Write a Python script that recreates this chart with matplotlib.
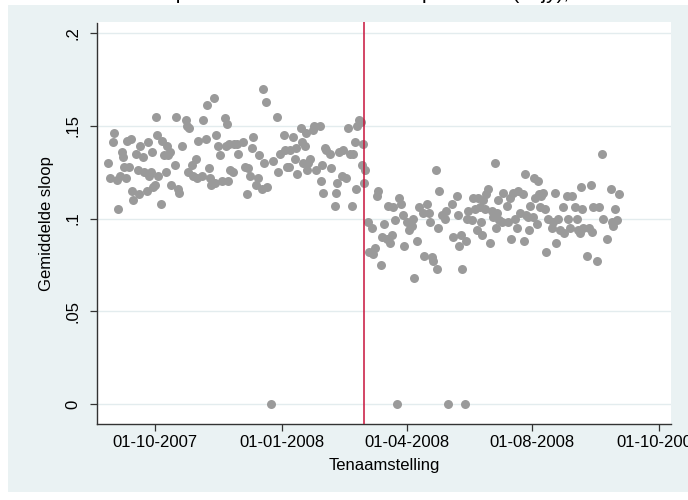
import matplotlib
matplotlib.use('Agg')
import matplotlib.pyplot as plt
from matplotlib.patches import Rectangle

plt.rcParams.update({
    'font.family': ['Liberation Sans', 'DejaVu Sans'],
    'font.size': 12,
})

# days since 01-10-2007 and average value
dag_voor = [-34.1, -32.7, -30.5, -29.8, -27.6, -26.9, -25.4, -24.0, -23.2, -22.5,
            -21.1, -20.3, -18.9, -17.4, -16.7, -16.0, -13.8, -12.3, -11.6, -10.9,
            -8.7, -8.0, -5.8, -5.1, -4.4, -2.9, -2.2, -1.5, 0.0, 0.7,
            1.5, 2.2, 4.4, 5.1, 6.5, 8.0, 8.7, 9.4, 10.9, 11.6,
            14.5, 15.2, 16.7, 17.4, 19.6, 22.5, 23.2, 24.0, 24.7, 26.9,
            27.6, 29.8, 30.5, 31.2, 34.1, 34.8, 37.0, 37.8, 39.2, 39.9,
            40.7, 42.8, 43.6, 44.3, 45.7, 47.2, 48.6, 50.8, 51.5, 52.3,
            53.0, 53.7, 54.4, 56.6, 57.3, 59.5, 60.3, 63.9, 65.3, 67.5,
            66.8, 69.0, 70.4, 71.1, 73.3, 74.8, 75.5, 77.7, 78.4, 79.1,
            80.6, 81.3, 85.7, 88.6, 89.3, 90.8, 93.7, 94.4, 95.8, 97.3,
            98.0, 100.2, 101.6, 102.3, 103.1, 106.0, 106.7, 107.4, 108.9, 109.6,
            110.4, 111.1, 112.5, 114.7, 115.4, 116.9, 119.8, 120.5, 121.3, 122.0,
            123.4, 124.1, 127.0, 127.8, 130.7, 131.4, 132.1, 133.6, 135.8, 136.5,
            138.7, 140.1, 141.6, 143.0, 143.7, 145.2, 145.9, 146.7, 148.1, 149.6,
            150.3, 151.0, 151.5, 152.3]
sloop_voor = [.130, .122, .141, .146, .121, .105, .123, .136, .133, .128,
              .122, .142, .128, .143, .115, .110, .135, .126, .113, .139,
              .133, .125, .115, .141, .123, .125, .136, .117, .118, .155,
              .145, .123, .108, .142, .134, .125, .139, .134, .136, .118,
              .129, .155, .116, .114, .139, .153, .150, .125, .149, .129,
              .123, .132, .122, .142, .123, .153, .143, .161, .127, .122,
              .118, .165, .119, .145, .139, .134, .120, .154, .139, .151,
              .120, .140, .126, .125, .140, .140, .135, .141, .128, .127,
              .113, .123, .138, .144, .118, .122, .134, .116, .170, .130,
              .163, .117, .131, .155, .125, .135, .145, .137, .128, .128,
              .137, .144, .132, .138, .124, .149, .141, .130, .139, .146,
              .126, .130, .132, .148, .150, .126, .150, .120, .129, .114,
              .138, .137, .135, .127, .107, .114, .119, .136, .123, .137,
              .122, .149, .135, .107, .135, .141, .116, .150, .153, .152,
              .129, .140, .119, .126]

dag_na = [154.6, 155.4, 157.5, 158.3, 159.7, 161.2, 161.9, 164.1, 164.8, 166.3,
          168.4, 169.2, 170.6, 172.1, 172.8, 174.2, 177.1, 178.6, 180.0, 180.8,
          183.0, 184.4, 186.6, 187.3, 188.0, 190.2, 191.7, 194.6, 195.3, 197.5,
          198.9, 199.7, 201.1, 201.8, 204.0, 204.7, 205.5, 206.2, 208.4, 210.5,
          211.5, 215.6, 216.3, 219.3, 220.0, 220.7, 222.2, 222.9, 225.8, 226.5,
          227.2, 230.1, 230.9, 232.3, 233.8, 234.5, 236.0, 236.7, 237.4, 238.1,
          239.6, 240.3, 241.8, 243.2, 244.7, 245.4, 246.8, 247.6, 248.3, 249.0,
          249.7, 251.9, 252.6, 255.6, 256.3, 257.7, 258.4, 259.9, 261.4, 262.8,
          263.5, 265.0, 267.2, 267.9, 268.6, 269.3, 270.8, 271.5, 272.3, 274.4,
          275.2, 275.9, 277.3, 278.1, 278.8, 279.5, 280.3, 281.7, 283.1, 283.9,
          285.3, 288.2, 289.0, 290.4, 291.1, 292.6, 294.0, 296.2, 296.9, 299.1,
          300.0, 301.4, 302.7, 304.9, 306.4, 307.1, 308.5, 309.3, 310.0, 310.7,
          313.6, 315.0, 316.5, 317.3, 318.0, 320.9, 322.3, 324.5, 325.2, 328.1,
          331.1, 331.8, 332.5, 334.0, 335.4, 336.9]
sloop_na = [.098, .082, .095, .081, .084, .112, .115, .075, .090, .097,
            .089, .107, .087, .091, .106, .099, .111, .108, .102, .085,
            .098, .094, .096, .100, .068, .088, .106, .103, .080, .108,
            .103, .098, .079, .077, .126, .073, .095, .115, .102, .100,
            .104, .108, .090, .112, .102, .085, .091, .073, .088, .100,
            .104, .099, .111, .105, .094, .111, .106, .098, .091, .110,
            .105, .113, .116, .087, .104, .101, .130, .095, .103, .110,
            .099, .098, .114, .107, .098, .111, .089, .114, .100, .095,
            .115, .103, .113, .088, .124, .102, .101, .094, .107, .101,
            .122, .111, .097, .120, .113, .106, .112, .114, .105, .082,
            .100, .095, .098, .114, .087, .100, .094, .106, .092, .112,
            .100, .095, .112, .106, .100, .094, .092, .117, .105, .095,
            .080, .095, .118, .093, .106, .077, .106, .135, .100, .089,
            .116, .098, .096, .105, .099, .113]

# days with no scrapping at all
dag_nul = [84, 176, 213, 225]
sloop_nul = [0, 0, 0, 0]

wijziging = 152  # 01-03-2008

tick_dagen = [0, 92, 183, 274, 366]
tick_labels = ['01-10-2007', '01-01-2008', '01-04-2008', '01-08-2008', '01-10-2008']
y_ticks = [0, .05, .1, .15, .2]
y_labels = ['0', '.05', '.1', '.15', '.2']

W, H = 688, 500
fig = plt.figure(figsize=(W / 100, H / 100), dpi=100)
fig.patch.set_facecolor('white')
fig.add_artist(Rectangle((8 / W, 1 - 492 / H), (W - 8) / W, (492 - 5) / H,
                         transform=fig.transFigure, facecolor='#EAF2F3',
                         edgecolor='none', zorder=0))

# title of the original graph is cut off, only descenders show
fig.text(55 / W, 1.0 + 1.5 / H, 'Aandeel sloop van RDW na overdracht per week (in jy),',
         ha='left', va='baseline', fontsize=15)

ax = fig.add_axes([97 / W, 1 - 424 / H, (671 - 97) / W, (424 - 22.5) / H])
ax.set_facecolor('white')

ax.scatter(dag_voor + dag_na + dag_nul, sloop_voor + sloop_na + sloop_nul,
           s=42, color='#9A9A9A', linewidths=0, zorder=3)
ax.axvline(wijziging, color='#C8143C', lw=1.1, zorder=4)

ax.set_xlim(-42.1, 374.7)
ax.set_ylim(-0.0108, 0.2057)
ax.set_xticks(tick_dagen)
ax.set_xticklabels(tick_labels)
ax.set_yticks(y_ticks)
ax.set_yticklabels(y_labels, rotation=90, va='center')
ax.yaxis.grid(True, color='#E3ECEE', lw=1.0, zorder=0)
ax.set_axisbelow(True)

for s in ['top', 'right']:
    ax.spines[s].set_visible(False)
for s in ['left', 'bottom']:
    ax.spines[s].set_color('#333333')
    ax.spines[s].set_linewidth(1.0)
ax.tick_params(axis='both', direction='out', length=5, width=0.9, color='#333333',
               labelsize=12)
ax.tick_params(axis='x', pad=3)
ax.tick_params(axis='y', pad=7)

ax.set_xlabel('Tenaamstelling', fontsize=12, labelpad=6)
ax.set_ylabel('Gemiddelde sloop', fontsize=12, labelpad=8)

fig.savefig('out.png', dpi=100)
